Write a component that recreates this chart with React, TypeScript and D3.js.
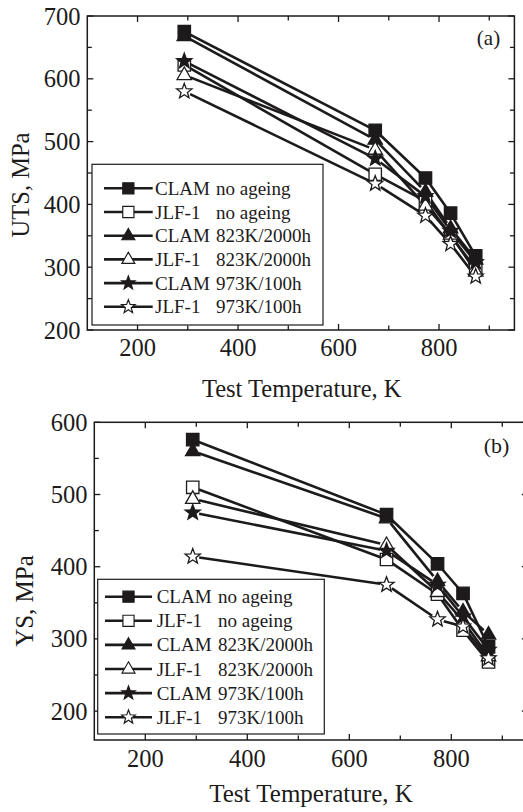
import React, { useEffect, useRef } from 'react';
import * as d3 from 'd3';

// test temperatures, K
const temps = [293, 673, 773, 823, 873];

// series: alloy / condition / marker
const alloys = ['CLAM', 'JLF-1', 'CLAM', 'JLF-1', 'CLAM', 'JLF-1'];
const conditions = ['no ageing', 'no ageing', '823K/2000h', '823K/2000h', '973K/100h', '973K/100h'];
const shapes = ['square', 'square', 'triangle', 'triangle', 'star', 'star'];
const filled = [true, false, true, false, true, false];

// (a) ultimate tensile strength, MPa
const utsClamNo = [675, 518, 442, 386, 318];
const utsJlfNo = [622, 448, 405, 350, 298];
const utsClam823 = [668, 503, 420, 362, 312];
const utsJlf823 = [606, 487, 398, 352, 293];
const utsClam973 = [628, 473, 413, 358, 308];
const utsJlf973 = [580, 433, 382, 337, 285];

// (b) yield strength, MPa
const ysClamNo = [576, 472, 404, 363, 289];
const ysJlfNo = [510, 410, 362, 312, 268];
const ysClam823 = [560, 467, 380, 338, 306];
const ysJlf823 = [494, 430, 365, 325, 276];
const ysClam973 = [475, 422, 375, 331, 285];
const ysJlf973 = [414, 375, 327, 317, 273];

const xMajor = [200, 400, 600, 800];
const xMinor = [300, 500, 700, 900];
const utsTicks = [200, 300, 400, 500, 600, 700];
const utsMinor = [250, 350, 450, 550, 650];
const ysTicks = [200, 300, 400, 500, 600];
const ysMinor = [250, 350, 450, 550];

const FONT = '"Liberation Serif", "Times New Roman", serif';
const INK = '#1c1a1a';

interface PanelSpec {
  series: number[][];
  yDomain: [number, number];
  yTicks: number[];
  yMinor: number[];
  yLabel: string;
  tag: string;
  box: { left: number; right: number; top: number; bottom: number };
  yLabelPos: [number, number];
  tickLabelRight: number;
  xLabelBase: number;
  titleBase: number;
  titleX: number;
  titleSize: number;
  tagPos: [number, number];
  tagSize: number;
  legend: { x0: number; x1: number; y0: number; y1: number; lineA: number; lineB: number; text: number; col2: number; row0: number; step: number };
}

function starPath(R: number) {
  const r = R * 0.42;
  const pts: [number, number][] = [];
  for (let i = 0; i < 10; i++) {
    const a = -Math.PI / 2 + (i * Math.PI) / 5;
    const rr = i % 2 === 0 ? R : r;
    pts.push([rr * Math.cos(a), rr * Math.sin(a)]);
  }
  return 'M' + pts.map(p => p.join(',')).join('L') + 'Z';
}

function markerPath(shape: string) {
  if (shape === 'square') return 'M-6.2,-6.2L6.2,-6.2L6.2,6.2L-6.2,6.2Z';
  if (shape === 'triangle') return 'M0,-8L7.2,4.5L-7.2,4.5Z';
  return starPath(8);
}

function drawPanel(g: d3.Selection<SVGGElement, unknown, null, undefined>, p: PanelSpec) {
  const { left, right, top, bottom } = p.box;
  const x = d3.scaleLinear().domain([100, 950]).range([left, right]);
  const y = d3.scaleLinear().domain(p.yDomain).range([bottom, top]);

  // ticks, inward on all four sides
  const tick = (v: number, len: number) => {
    g.append('line').attr('x1', x(v)).attr('x2', x(v)).attr('y1', bottom).attr('y2', bottom - len);
    g.append('line').attr('x1', x(v)).attr('x2', x(v)).attr('y1', top).attr('y2', top + len);
  };
  const ytick = (v: number, len: number) => {
    g.append('line').attr('y1', y(v)).attr('y2', y(v)).attr('x1', left).attr('x2', left + len);
    g.append('line').attr('y1', y(v)).attr('y2', y(v)).attr('x1', right).attr('x2', right - len);
  };
  xMajor.forEach(v => tick(v, 6));
  xMinor.forEach(v => tick(v, 4.5));
  p.yTicks.forEach(v => ytick(v, 6));
  p.yMinor.forEach(v => ytick(v, 4.5));
  g.selectAll('line').attr('stroke', INK).attr('stroke-width', 1.3);

  g.append('rect')
    .attr('x', left).attr('y', top)
    .attr('width', right - left).attr('height', bottom - top)
    .attr('fill', 'none').attr('stroke', INK).attr('stroke-width', 1.5);

  // tick labels
  xMajor.forEach(v => {
    g.append('text').attr('x', x(v)).attr('y', p.xLabelBase)
      .attr('text-anchor', 'middle').attr('font-size', 24.5).text(v);
  });
  p.yTicks.forEach(v => {
    g.append('text').attr('x', p.tickLabelRight).attr('y', y(v) + 8.5)
      .attr('text-anchor', 'end').attr('font-size', 24.5).text(v);
  });

  g.append('text').attr('x', p.titleX).attr('y', p.titleBase)
    .attr('text-anchor', 'middle').attr('font-size', p.titleSize).text('Test Temperature, K');
  g.append('text')
    .attr('transform', `translate(${p.yLabelPos[0]},${p.yLabelPos[1]}) rotate(-90)`)
    .attr('text-anchor', 'middle').attr('font-size', p.titleSize).text(p.yLabel);
  g.append('text').attr('x', p.tagPos[0]).attr('y', p.tagPos[1])
    .attr('text-anchor', 'middle').attr('font-size', p.tagSize).text(p.tag);

  // lines with a small gap at each symbol
  const gap = 6.5;
  p.series.forEach(vals => {
    for (let i = 0; i < vals.length - 1; i++) {
      const x1 = x(temps[i]), y1 = y(vals[i]);
      const x2 = x(temps[i + 1]), y2 = y(vals[i + 1]);
      const len = Math.hypot(x2 - x1, y2 - y1);
      const ux = (x2 - x1) / len, uy = (y2 - y1) / len;
      g.append('line')
        .attr('x1', x1 + ux * gap).attr('y1', y1 + uy * gap)
        .attr('x2', x2 - ux * gap).attr('y2', y2 - uy * gap)
        .attr('stroke', INK).attr('stroke-width', 2.6);
    }
  });
  p.series.forEach((vals, s) => {
    vals.forEach((v, i) => {
      g.append('path')
        .attr('d', markerPath(shapes[s]))
        .attr('transform', `translate(${x(temps[i])},${y(v)})`)
        .attr('fill', filled[s] ? INK : '#fff')
        .attr('stroke', INK).attr('stroke-width', 1.3);
    });
  });

  // legend
  const L = p.legend;
  g.append('rect')
    .attr('x', L.x0).attr('y', L.y0).attr('width', L.x1 - L.x0).attr('height', L.y1 - L.y0)
    .attr('fill', '#fff').attr('stroke', INK).attr('stroke-width', 1.2);
  alloys.forEach((a, s) => {
    const cy = L.row0 + s * L.step;
    const mx = (L.lineA + L.lineB) / 2;
    g.append('line').attr('x1', L.lineA).attr('x2', L.lineB).attr('y1', cy).attr('y2', cy)
      .attr('stroke', INK).attr('stroke-width', 2.6);
    g.append('path').attr('d', markerPath(shapes[s]))
      .attr('transform', `translate(${mx},${cy}) scale(0.9)`)
      .attr('fill', filled[s] ? INK : '#fff').attr('stroke', INK).attr('stroke-width', 1.3);
    g.append('text').attr('x', L.text).attr('y', cy + 6.5).attr('font-size', 19).text(a);
    g.append('text').attr('x', L.col2).attr('y', cy + 6.5).attr('font-size', 19).text(conditions[s]);
  });
}

const panelA: PanelSpec = {
  series: [utsClamNo, utsJlfNo, utsClam823, utsJlf823, utsClam973, utsJlf973],
  yDomain: [200, 700], yTicks: utsTicks, yMinor: utsMinor, yLabel: 'UTS, MPa', tag: '(a)',
  box: { left: 87.3, right: 514.4, top: 16, bottom: 330 },
  yLabelPos: [29, 185], tickLabelRight: 80.5, xLabelBase: 356, titleBase: 396.7, titleX: 301.7,
  titleSize: 24.5, tagPos: [488.5, 45], tagSize: 21,
  legend: { x0: 92, x1: 323, y0: 164.3, y1: 325, lineA: 104, lineB: 152.7, text: 155, col2: 216, row0: 188.3, step: 23.7 },
};

const panelB: PanelSpec = {
  series: [ysClamNo, ysJlfNo, ysClam823, ysJlf823, ysClam973, ysJlf973],
  yDomain: [160, 600], yTicks: ysTicks, yMinor: ysMinor, yLabel: 'YS, MPa', tag: '(b)',
  box: { left: 94.3, right: 527.8, top: 422.3, bottom: 740 },
  yLabelPos: [33, 601], tickLabelRight: 87.5, xLabelBase: 766.7, titleBase: 801.7, titleX: 311,
  titleSize: 25, tagPos: [496.5, 453], tagSize: 22,
  legend: { x0: 97.7, x1: 324.3, y0: 579.3, y1: 734, lineA: 105, lineB: 152, text: 156.7, col2: 218, row0: 596.7, step: 24.1 },
};

export default function App() {
  const svgRef = useRef<SVGSVGElement>(null);

  useEffect(() => {
    if (!svgRef.current) return;
    const svg = d3.select(svgRef.current);
    svg.selectAll('*').remove();
    drawPanel(svg.append('g'), panelA);
    drawPanel(svg.append('g'), panelB);
  }, []);

  return (
    <div style={{ position: 'absolute', left: 0, top: 0 }}>
      <svg ref={svgRef} width={523} height={812}
        style={{ display: 'block', background: '#fff', fontFamily: FONT, fill: INK }} />
    </div>
  );
}
